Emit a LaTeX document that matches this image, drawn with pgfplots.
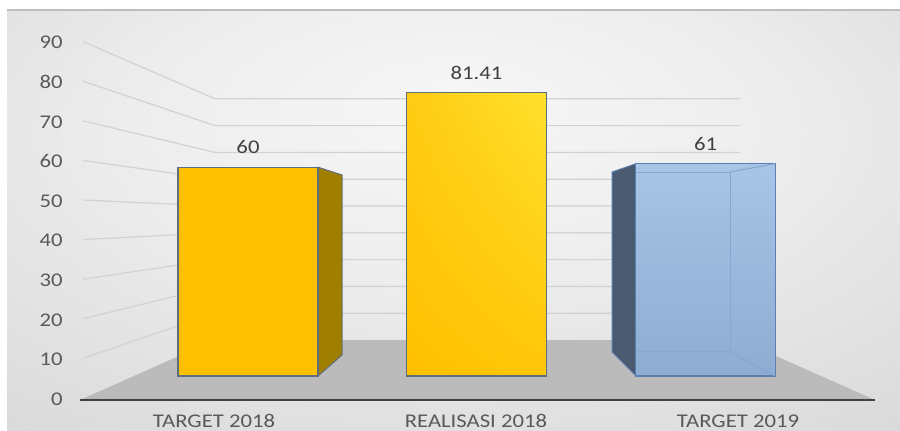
\documentclass[border=0pt]{standalone}
\usepackage{pgfplots}
\pgfplotsset{compat=1.18}
\usetikzlibrary{shadings}
\usepackage{fontspec}
\setmainfont{Carlito}[FakeStretch=1.17]
\definecolor{txt}{HTML}{595959}
\definecolor{valtxt}{HTML}{404040}
\definecolor{gridc}{HTML}{D2D2D2}
\definecolor{floorc}{HTML}{BBBBBB}
\definecolor{axisc}{HTML}{404040}
\definecolor{gold}{HTML}{FFC000}
\definecolor{goldA}{HTML}{FFCC14}
\definecolor{goldB}{HTML}{FFE02C}
\definecolor{goldC}{HTML}{FFC608}
\definecolor{goldside}{HTML}{A07E00}
\definecolor{baredge}{HTML}{5E6E7E}
\definecolor{bluetop}{HTML}{A8C5E7}
\definecolor{bluebot}{HTML}{8EABD1}
\definecolor{blueside}{HTML}{4A5A70}
\definecolor{blueedge}{HTML}{5B80B0}
\definecolor{blueinner}{HTML}{86A7CF}
\definecolor{bg0}{HTML}{F7F7F7}
\definecolor{bg1}{HTML}{EDEDED}
\definecolor{bg2}{HTML}{D6D6D6}
\definecolor{bg3}{HTML}{C4C4C4}
\definecolor{topline}{HTML}{BDBDBD}
\pgfdeclareradialshading{bgshade}{\pgfpoint{0bp}{14bp}}{color(0bp)=(bg0); color(18bp)=(bg1); color(45bp)=(bg2); color(80bp)=(bg3)}
\newcommand{\lbl}{\fontsize{9.7}{11}\selectfont}
\begin{document}
\begin{tikzpicture}
% decorative chart area: background, perspective walls and floor (pixel grid: x right, y down)
\begin{scope}[x=0.5pt, y=-0.5pt, shift={(0pt,215pt)}]
  \fill[white] (0,0) rectangle (900,430);
  \shade[shading=bgshade] (7,10) rectangle (900,430);
  \draw[topline, line width=1pt] (7,10) -- (900,10);
  \foreach \k in {1,...,9}{
    \draw[gridc, line width=0.6pt] (83,{398-39.6*\k}) -- (215,{340-26.8*\k}) -- (740,{340-26.8*\k});
  }
  \fill[floorc] (80,400) -- (875,400) -- (740,340) -- (215,340) -- cycle;
  \draw[axisc, line width=1.1pt] (80,400) -- (875,400);
\end{scope}
\begin{axis}[
  at={(0,0)}, anchor=south west,
  scale only axis, width=450pt, height=215pt,
  xmin=0, xmax=900, ymin=-15.5172, ymax=108.046,
  clip=false,
  axis line style={draw=none},
  major tick length=0pt,
  /pgf/number format/assume math mode=true,
  ytick={-6.609,4.770,16.149,27.529,38.908,50.287,61.667,73.046,84.425,95.805},
  yticklabels={0,10,20,30,40,50,60,70,80,90},
  yticklabel style={anchor=east, inner sep=0pt, xshift=31.5pt, font=\lbl, text=txt},
  xtick={214,476,738},
  xticklabels={TARGET 2018,REALISASI 2018,TARGET 2019},
  xticklabel style={anchor=base, inner sep=0pt, yshift=1.5pt, font=\lbl, text=txt},
]
% side faces
\addplot[fill=goldside, draw=baredge, line width=0.5pt, forget plot] coordinates {(318,60) (342,57.76) (342,6.03) (318,0)} -- cycle;
\addplot[fill=blueside, draw=blueedge, line width=0.5pt, forget plot] coordinates {(636,61) (612,58.62) (612,6.90) (636,0)} -- cycle;
% bars
\addplot[ybar, bar width=140, bar shift=0pt, fill=gold, draw=baredge, line width=0.6pt,
  nodes near coords, every node near coord/.append style={anchor=center, yshift=10pt, font=\lbl, text=valtxt}]
  coordinates {(248,60)};
\addplot[ybar, bar width=140, bar shift=0pt, lower left=gold, upper left=goldA, upper right=goldB, lower right=goldC, draw=baredge, line width=0.6pt,
  nodes near coords, every node near coord/.append style={anchor=center, yshift=10pt, font=\lbl, text=valtxt}]
  coordinates {(476.5,81.41)};
\addplot[ybar, bar width=140, bar shift=0pt, top color=bluetop, bottom color=bluebot, draw=blueedge, line width=0.6pt,
  nodes near coords, every node near coord/.append style={anchor=center, yshift=10pt, font=\lbl, text=valtxt}]
  coordinates {(705.5,61)};
% inner (see-through) edges of the blue box
\addplot[blueinner, line width=0.5pt, forget plot] coordinates {(636,58.62) (730,58.62) (730,6.90) (636,6.90)};
\addplot[blueinner, line width=0.5pt, forget plot] coordinates {(730,58.62) (775,61)};
\addplot[blueinner, line width=0.5pt, forget plot] coordinates {(730,6.90) (775,0)};
\end{axis}
\pgfresetboundingbox
\useasboundingbox (0pt,0pt) rectangle (450pt,215pt);
\end{tikzpicture}
\end{document}
